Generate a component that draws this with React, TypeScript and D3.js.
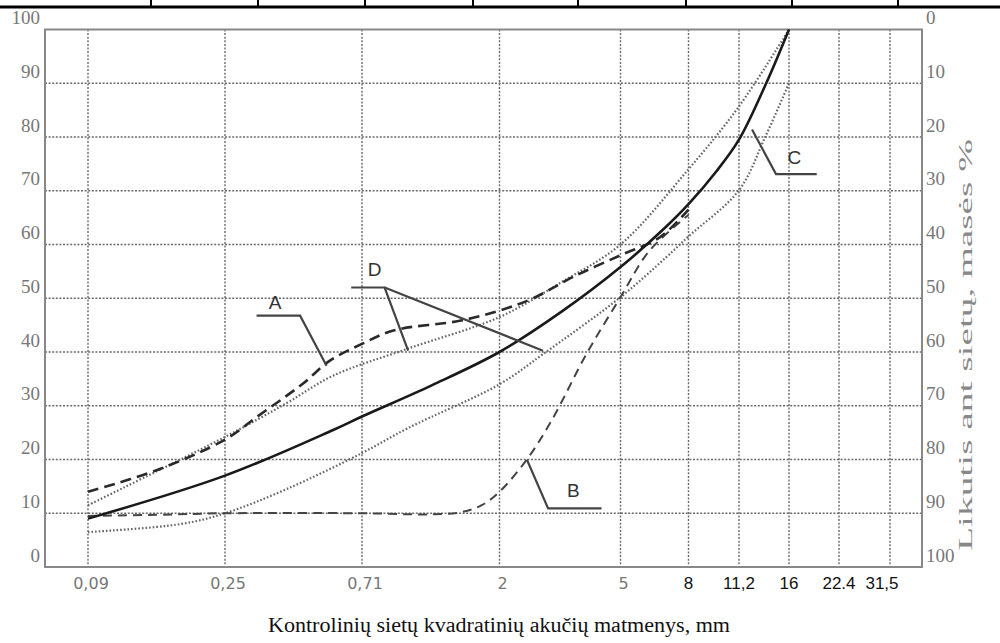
import React from "react";
import * as d3 from "d3";

const width = 1000;
const height = 643;

// sieve sizes (mm) and their tick labels
const sieves = [0.09, 0.25, 0.71, 2, 5, 8, 11.2, 16, 22.4, 31.5];
const sieveLabels = ["0,09", "0,25", "0,71", "2", "5", "8", "11,2", "16", "22.4", "31,5"];
const yTicks = [0, 10, 20, 30, 40, 50, 60, 70, 80, 90, 100];

// passing % as [size, percent]
const curveC: [number, number][] = [
  [0.09, 9], [0.25, 17], [0.57, 25.5], [0.71, 28], [1.2, 33.8], [2, 40],
  [3.2, 47.5], [5, 55.8], [6.85, 63.3], [8, 67.5], [9.6, 73.5], [11.2, 79.5],
  [13.6, 90], [16, 100],
];
const upperLimit: [number, number][] = [
  [0.09, 11.5], [0.25, 24.2], [0.4, 30.5], [0.57, 35.6], [1, 40.6], [2, 46.5],
  [3.2, 53], [5, 60], [8, 74], [11.2, 85.7], [16, 100],
];
const lowerLimit: [number, number][] = [
  [0.09, 6.5], [0.18, 8], [0.25, 10], [0.4, 14.5], [0.71, 21.2], [1, 25.8],
  [2, 34], [2.78, 39.6], [5, 50.2], [6.85, 57.6], [8, 61.5], [11.2, 70.1],
  [13.5, 80], [16, 90],
];
const curveA: [number, number][] = [
  [0.09, 14], [0.15, 18], [0.25, 23.7], [0.32, 28], [0.45, 34], [0.556, 38.4],
  [0.71, 41.5], [0.9, 44], [1.48, 45.8], [2, 47.7], [2.58, 50], [3.5, 54],
  [5, 58], [6.55, 61.3], [8, 66.5],
];
const curveB: [number, number][] = [
  [0.09, 9.5], [0.15, 9.7], [0.25, 10], [0.71, 10], [1.2, 9.8], [1.5, 10.2],
  [1.75, 11.5], [2, 14], [2.46, 20], [2.97, 27.3], [3.86, 39.6], [5, 50.2],
  [6.1, 58.8], [8, 65.5],
];

// leader lines for the letters, in [size, percent]
const leaders = [
  { name: "A", label: [0.366, 49.25], path: [[0.318, 46.75], [0.443, 46.75], [0.542, 37.45]] },
  { name: "B", label: [3.5, 14.3], path: [[2.46, 20], [2.89, 10.9], [4.33, 10.9]] },
  { name: "C", label: [16.58, 76.3], path: [[12.29, 81.4], [14.58, 73.1], [19.28, 73.1]] },
  { name: "D", label: [0.781, 55.4], path: [[0.654, 52], [0.842, 52], [1.005, 40.25]] },
  { name: "", label: null, path: [[0.842, 52], [2.78, 40.25]] },
];

const frame = { left: 45, right: 922, top: 29.5, bottom: 567 };
const sieveX = [88, 225, 362, 499.5, 620.5, 688.5, 739, 789, 839, 890];
const tableX = [151, 258, 365, 473, 578, 686, 792, 898];

export default function App() {
  const x = d3.scaleLog().domain(sieves).range(sieveX);
  const y = d3.scaleLinear().domain([0, 100]).range([frame.bottom, frame.top]);
  const line = d3
    .line<[number, number]>()
    .x((d) => x(d[0]))
    .y((d) => y(d[1]))
    .curve(d3.curveCatmullRom.alpha(0.5));
  const straight = d3
    .line<number[]>()
    .x((d) => x(d[0]))
    .y((d) => y(d[1]));

  const gridStyle = { stroke: "#6a6a6a", strokeWidth: 1.4, strokeDasharray: "2 1.6" };
  const dotted = { fill: "none", stroke: "#666", strokeWidth: 2.2, strokeDasharray: "1.6 2" };

  return (
    <svg
      width={width}
      height={height}
      style={{ position: "absolute", left: 0, top: 0, background: "#fff" }}
    >
      {/* cut-off table row at top */}
      <line x1={0} x2={width} y1={7} y2={7} stroke="#000" strokeWidth={3} />
      {tableX.map((tx) => (
        <line key={tx} x1={tx} x2={tx} y1={0} y2={7} stroke="#000" strokeWidth={2} />
      ))}

      {/* grid */}
      {yTicks.slice(1, -1).map((v) => (
        <line key={"h" + v} x1={frame.left} x2={frame.right} y1={y(v)} y2={y(v)} {...gridStyle} />
      ))}
      {sieves.map((s) => (
        <line key={"v" + s} x1={x(s)} x2={x(s)} y1={frame.top} y2={frame.bottom} {...gridStyle} />
      ))}
      <rect
        x={frame.left}
        y={frame.top}
        width={frame.right - frame.left}
        height={frame.bottom - frame.top}
        fill="none"
        stroke="#888"
        strokeWidth={2}
      />

      {/* left and right axis labels */}
      {yTicks.map((v) => (
        <g key={"l" + v} fontFamily="'Liberation Serif', serif" fontSize={19} fill="#777">
          <text x={40} y={y(v) - 12} dy="0.35em" textAnchor="end">
            {v}
          </text>
          <text x={926} y={y(v) - 12} dy="0.35em" textAnchor="start">
            {100 - v}
          </text>
        </g>
      ))}
      <text
        transform="translate(965,345) rotate(-90)"
        textAnchor="middle"
        dy="0.35em"
        fontFamily="'Liberation Serif', serif"
        fontSize={19}
        fill="#888"
        textLength={412}
        lengthAdjust="spacingAndGlyphs"
      >
        Likutis ant sietų, masės %
      </text>

      {/* x labels */}
      {sieves.map((s, i) =>
        i < 5 ? (
          <text
            key={"x" + s}
            x={x(s) + 3}
            y={583}
            dy="0.35em"
            textAnchor="middle"
            fontFamily="'DejaVu Sans', sans-serif"
            fontSize={16}
            fill="#777"
          >
            {sieveLabels[i]}
          </text>
        ) : (
          <text
            key={"x" + s}
            x={i === 9 ? x(s) - 8 : x(s)}
            y={583}
            dy="0.35em"
            textAnchor="middle"
            fontFamily="'Liberation Sans Narrow', 'Liberation Sans', sans-serif"
            fontSize={17}
            fill="#111"
          >
            {sieveLabels[i]}
          </text>
        )
      )}
      <text
        x={499}
        y={625}
        dy="0.35em"
        textAnchor="middle"
        fontFamily="'Liberation Serif', serif"
        fontSize={20}
        fill="#111"
        textLength={462}
        lengthAdjust="spacingAndGlyphs"
      >
        Kontrolinių sietų kvadratinių akučių matmenys, mm
      </text>

      {/* curves */}
      <path d={line(upperLimit) ?? ""} {...dotted} />
      <path d={line(lowerLimit) ?? ""} {...dotted} />
      <path d={line(curveB) ?? ""} fill="none" stroke="#444" strokeWidth={2} strokeDasharray="9 6" />
      <path d={line(curveA) ?? ""} fill="none" stroke="#2a2a2a" strokeWidth={2.6} strokeDasharray="11 6" />
      <path d={line(curveC) ?? ""} fill="none" stroke="#1a1a1a" strokeWidth={2.6} />

      {/* letter leaders */}
      {leaders.map((l, i) => (
        <g key={"ld" + i}>
          <path d={straight(l.path) ?? ""} fill="none" stroke="#444" strokeWidth={2.2} />
          {l.label && (
            <text
              x={x(l.label[0])}
              y={y(l.label[1])}
              dy="0.35em"
              textAnchor="middle"
              fontFamily="'Liberation Sans', Arial, sans-serif"
              fontSize={19}
              fill="#333"
            >
              {l.name}
            </text>
          )}
        </g>
      ))}
    </svg>
  );
}
